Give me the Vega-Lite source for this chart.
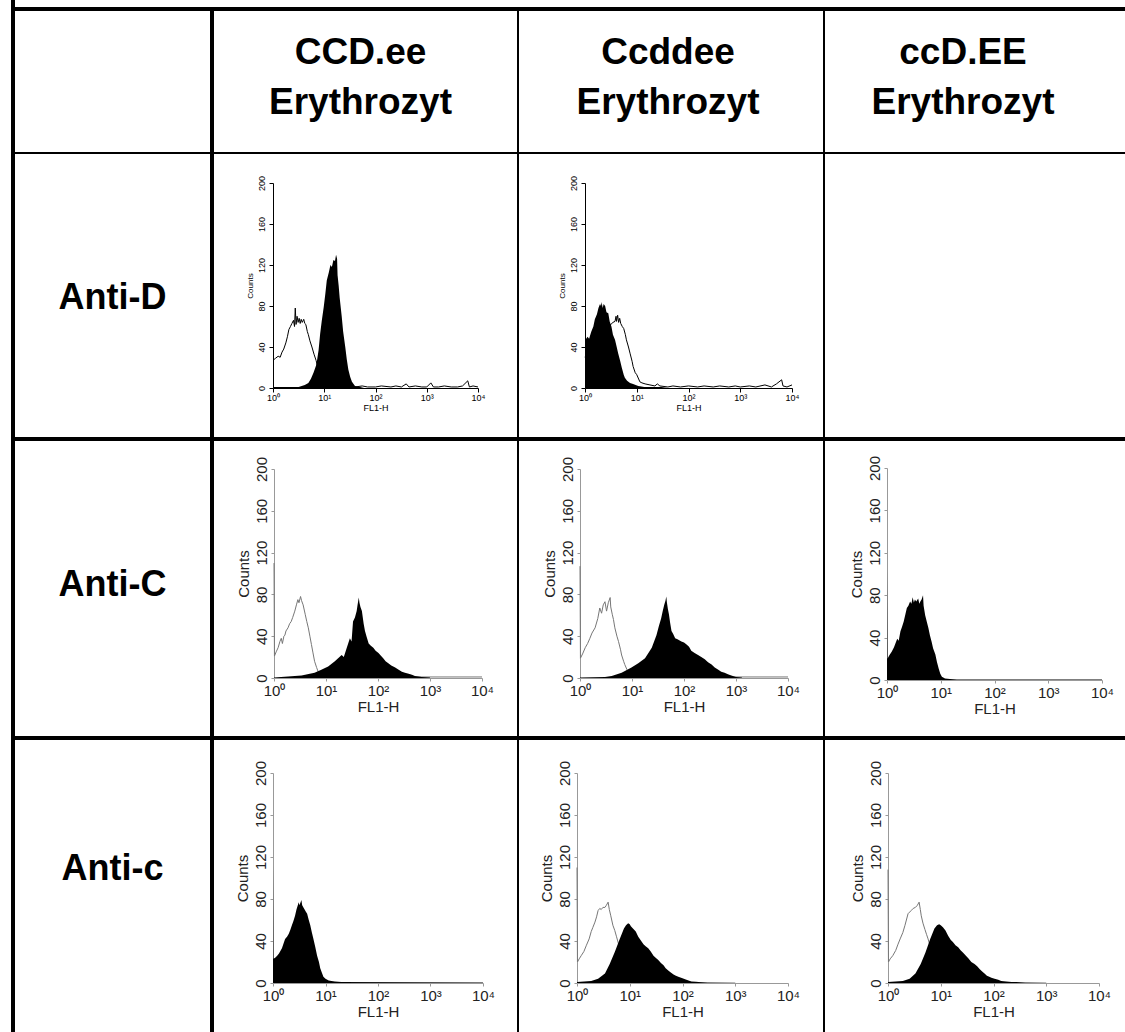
{
"$schema":"https://vega.github.io/schema/vega-lite/v6.json",
"background":"black",
"padding":0,
"datasets":{"h":[
{"p":"D1","s":"o","x":1,"y":27},{"p":"D1","s":"o","x":1.12,"y":29},{"p":"D1","s":"o","x":1.26,"y":31},{"p":"D1","s":"o","x":1.38,"y":30},{"p":"D1","s":"o","x":1.5,"y":35},{"p":"D1","s":"o","x":1.62,"y":38},{"p":"D1","s":"o","x":1.78,"y":44},{"p":"D1","s":"o","x":1.91,"y":50},{"p":"D1","s":"o","x":2.04,"y":57},{"p":"D1","s":"o","x":2.19,"y":60},{"p":"D1","s":"o","x":2.34,"y":63},{"p":"D1","s":"o","x":2.51,"y":66},{"p":"D1","s":"o","x":2.63,"y":60},{"p":"D1","s":"o","x":2.72,"y":78},{"p":"D1","s":"o","x":2.82,"y":62},{"p":"D1","s":"o","x":2.95,"y":70},{"p":"D1","s":"o","x":3.09,"y":64},{"p":"D1","s":"o","x":3.24,"y":68},{"p":"D1","s":"o","x":3.39,"y":63},{"p":"D1","s":"o","x":3.55,"y":67},{"p":"D1","s":"o","x":3.72,"y":64},{"p":"D1","s":"o","x":3.98,"y":67},{"p":"D1","s":"o","x":4.17,"y":63},{"p":"D1","s":"o","x":4.37,"y":62},{"p":"D1","s":"o","x":4.68,"y":55},{"p":"D1","s":"o","x":4.9,"y":52},{"p":"D1","s":"o","x":5.25,"y":46},{"p":"D1","s":"o","x":5.75,"y":40},{"p":"D1","s":"o","x":6.31,"y":33},{"p":"D1","s":"o","x":6.92,"y":27},{"p":"D1","s":"o","x":7.59,"y":19},{"p":"D1","s":"o","x":8.32,"y":13},{"p":"D1","s":"o","x":8.91,"y":10},{"p":"D1","s":"o","x":9.77,"y":6},{"p":"D1","s":"o","x":10.5,"y":4},{"p":"D1","s":"o","x":11.5,"y":3},{"p":"D1","s":"o","x":13.2,"y":2},{"p":"D1","s":"o","x":17,"y":2},{"p":"D1","s":"o","x":22,"y":1},{"p":"D1","s":"o","x":30,"y":2},{"p":"D1","s":"o","x":40,"y":1},{"p":"D1","s":"o","x":55,"y":2},{"p":"D1","s":"o","x":70,"y":1},{"p":"D1","s":"o","x":100,"y":1},{"p":"D1","s":"o","x":130,"y":2},{"p":"D1","s":"o","x":200,"y":1},{"p":"D1","s":"o","x":250,"y":2},{"p":"D1","s":"o","x":320,"y":1},{"p":"D1","s":"o","x":398,"y":4},{"p":"D1","s":"o","x":450,"y":1},{"p":"D1","s":"o","x":600,"y":2},{"p":"D1","s":"o","x":800,"y":1},{"p":"D1","s":"o","x":1000,"y":1},{"p":"D1","s":"o","x":1202,"y":5},{"p":"D1","s":"o","x":1350,"y":1},{"p":"D1","s":"o","x":1700,"y":1},{"p":"D1","s":"o","x":2200,"y":2},{"p":"D1","s":"o","x":3000,"y":1},{"p":"D1","s":"o","x":4000,"y":1},{"p":"D1","s":"o","x":5000,"y":2},{"p":"D1","s":"o","x":6310,"y":7},{"p":"D1","s":"o","x":6800,"y":1},{"p":"D1","s":"o","x":8000,"y":2},{"p":"D1","s":"o","x":10000,"y":1},
{"p":"D1","s":"f","x":1,"y":112},{"p":"D1","s":"f","x":1.02,"y":1},{"p":"D1","s":"f","x":3.16,"y":1},{"p":"D1","s":"f","x":3.63,"y":2},{"p":"D1","s":"f","x":4.17,"y":3},{"p":"D1","s":"f","x":4.9,"y":5},{"p":"D1","s":"f","x":5.5,"y":9},{"p":"D1","s":"f","x":6.17,"y":15},{"p":"D1","s":"f","x":6.92,"y":22},{"p":"D1","s":"f","x":7.24,"y":27},{"p":"D1","s":"f","x":7.76,"y":37},{"p":"D1","s":"f","x":8.32,"y":53},{"p":"D1","s":"f","x":8.91,"y":65},{"p":"D1","s":"f","x":9.77,"y":79},{"p":"D1","s":"f","x":10.5,"y":92},{"p":"D1","s":"f","x":11.2,"y":105},{"p":"D1","s":"f","x":12.3,"y":113},{"p":"D1","s":"f","x":13.2,"y":120},{"p":"D1","s":"f","x":14.1,"y":118},{"p":"D1","s":"f","x":15.1,"y":125},{"p":"D1","s":"f","x":16.2,"y":124},{"p":"D1","s":"f","x":17,"y":130},{"p":"D1","s":"f","x":17.8,"y":126},{"p":"D1","s":"f","x":18.2,"y":110},{"p":"D1","s":"f","x":19.1,"y":100},{"p":"D1","s":"f","x":20,"y":88},{"p":"D1","s":"f","x":21.9,"y":70},{"p":"D1","s":"f","x":23.4,"y":55},{"p":"D1","s":"f","x":25.7,"y":40},{"p":"D1","s":"f","x":27.5,"y":28},{"p":"D1","s":"f","x":29.5,"y":18},{"p":"D1","s":"f","x":32,"y":11},{"p":"D1","s":"f","x":34.7,"y":6},{"p":"D1","s":"f","x":39.8,"y":2},{"p":"D1","s":"f","x":50,"y":1},{"p":"D1","s":"f","x":60,"y":0},
{"p":"D2","s":"o","x":1,"y":30},{"p":"D2","s":"o","x":1.26,"y":40},{"p":"D2","s":"o","x":1.58,"y":50},{"p":"D2","s":"o","x":2,"y":57},{"p":"D2","s":"o","x":2.51,"y":60},{"p":"D2","s":"o","x":3.16,"y":62},{"p":"D2","s":"o","x":3.47,"y":64},{"p":"D2","s":"o","x":3.8,"y":65},{"p":"D2","s":"o","x":3.98,"y":70},{"p":"D2","s":"o","x":4.07,"y":65},{"p":"D2","s":"o","x":4.27,"y":71},{"p":"D2","s":"o","x":4.47,"y":64},{"p":"D2","s":"o","x":4.68,"y":68},{"p":"D2","s":"o","x":4.9,"y":63},{"p":"D2","s":"o","x":5.25,"y":60},{"p":"D2","s":"o","x":5.6,"y":58},{"p":"D2","s":"o","x":6.03,"y":52},{"p":"D2","s":"o","x":6.31,"y":47},{"p":"D2","s":"o","x":6.92,"y":40},{"p":"D2","s":"o","x":7.41,"y":34},{"p":"D2","s":"o","x":8.13,"y":26},{"p":"D2","s":"o","x":8.51,"y":21},{"p":"D2","s":"o","x":9.33,"y":15},{"p":"D2","s":"o","x":10,"y":13},{"p":"D2","s":"o","x":11.5,"y":6},{"p":"D2","s":"o","x":12.6,"y":5},{"p":"D2","s":"o","x":14.5,"y":4},{"p":"D2","s":"o","x":18,"y":3},{"p":"D2","s":"o","x":22.4,"y":2},{"p":"D2","s":"o","x":25,"y":4},{"p":"D2","s":"o","x":28,"y":2},{"p":"D2","s":"o","x":40,"y":1},{"p":"D2","s":"o","x":50,"y":2},{"p":"D2","s":"o","x":70,"y":1},{"p":"D2","s":"o","x":100,"y":2},{"p":"D2","s":"o","x":150,"y":1},{"p":"D2","s":"o","x":200,"y":2},{"p":"D2","s":"o","x":300,"y":1},{"p":"D2","s":"o","x":400,"y":2},{"p":"D2","s":"o","x":600,"y":1},{"p":"D2","s":"o","x":800,"y":2},{"p":"D2","s":"o","x":1000,"y":1},{"p":"D2","s":"o","x":1500,"y":2},{"p":"D2","s":"o","x":2000,"y":1},{"p":"D2","s":"o","x":3000,"y":3},{"p":"D2","s":"o","x":4000,"y":1},{"p":"D2","s":"o","x":5000,"y":4},{"p":"D2","s":"o","x":6310,"y":8},{"p":"D2","s":"o","x":6700,"y":2},{"p":"D2","s":"o","x":8000,"y":1},{"p":"D2","s":"o","x":10000,"y":3},
{"p":"D2","s":"f","x":1,"y":110},{"p":"D2","s":"f","x":1.02,"y":47},{"p":"D2","s":"f","x":1.12,"y":50},{"p":"D2","s":"f","x":1.2,"y":48},{"p":"D2","s":"f","x":1.32,"y":55},{"p":"D2","s":"f","x":1.45,"y":60},{"p":"D2","s":"f","x":1.55,"y":67},{"p":"D2","s":"f","x":1.7,"y":72},{"p":"D2","s":"f","x":1.82,"y":78},{"p":"D2","s":"f","x":1.95,"y":82},{"p":"D2","s":"f","x":2.04,"y":80},{"p":"D2","s":"f","x":2.09,"y":84},{"p":"D2","s":"f","x":2.2,"y":78},{"p":"D2","s":"f","x":2.29,"y":82},{"p":"D2","s":"f","x":2.45,"y":80},{"p":"D2","s":"f","x":2.6,"y":74},{"p":"D2","s":"f","x":2.82,"y":73},{"p":"D2","s":"f","x":3,"y":65},{"p":"D2","s":"f","x":3.24,"y":60},{"p":"D2","s":"f","x":3.47,"y":52},{"p":"D2","s":"f","x":3.8,"y":47},{"p":"D2","s":"f","x":4.1,"y":40},{"p":"D2","s":"f","x":4.37,"y":34},{"p":"D2","s":"f","x":4.8,"y":26},{"p":"D2","s":"f","x":5.13,"y":20},{"p":"D2","s":"f","x":5.6,"y":13},{"p":"D2","s":"f","x":5.89,"y":10},{"p":"D2","s":"f","x":6.5,"y":7},{"p":"D2","s":"f","x":7.41,"y":5},{"p":"D2","s":"f","x":8.5,"y":4},{"p":"D2","s":"f","x":10.7,"y":2},{"p":"D2","s":"f","x":14,"y":1},{"p":"D2","s":"f","x":30,"y":1},{"p":"D2","s":"f","x":40,"y":0},
{"p":"C1","s":"o","x":1,"y":110},{"p":"C1","s":"o","x":1.02,"y":21},{"p":"C1","s":"o","x":1.1,"y":25},{"p":"C1","s":"o","x":1.2,"y":29},{"p":"C1","s":"o","x":1.3,"y":35},{"p":"C1","s":"o","x":1.38,"y":38},{"p":"C1","s":"o","x":1.45,"y":33},{"p":"C1","s":"o","x":1.55,"y":40},{"p":"C1","s":"o","x":1.62,"y":41},{"p":"C1","s":"o","x":1.7,"y":45},{"p":"C1","s":"o","x":1.86,"y":48},{"p":"C1","s":"o","x":2,"y":52},{"p":"C1","s":"o","x":2.14,"y":54},{"p":"C1","s":"o","x":2.29,"y":58},{"p":"C1","s":"o","x":2.51,"y":64},{"p":"C1","s":"o","x":2.7,"y":70},{"p":"C1","s":"o","x":2.88,"y":75},{"p":"C1","s":"o","x":3.02,"y":72},{"p":"C1","s":"o","x":3.24,"y":78},{"p":"C1","s":"o","x":3.39,"y":74},{"p":"C1","s":"o","x":3.63,"y":70},{"p":"C1","s":"o","x":3.98,"y":61},{"p":"C1","s":"o","x":4.27,"y":54},{"p":"C1","s":"o","x":4.57,"y":48},{"p":"C1","s":"o","x":4.9,"y":40},{"p":"C1","s":"o","x":5.25,"y":32},{"p":"C1","s":"o","x":5.62,"y":24},{"p":"C1","s":"o","x":6.03,"y":16},{"p":"C1","s":"o","x":6.6,"y":10},{"p":"C1","s":"o","x":7.08,"y":6},{"p":"C1","s":"o","x":8.13,"y":3},{"p":"C1","s":"o","x":9,"y":2},{"p":"C1","s":"o","x":12,"y":1},{"p":"C1","s":"o","x":10000,"y":1},
{"p":"C1","s":"f","x":1,"y":0.5},{"p":"C1","s":"f","x":1.86,"y":1.5},{"p":"C1","s":"f","x":3.39,"y":2.5},{"p":"C1","s":"f","x":6.03,"y":5},{"p":"C1","s":"f","x":8.13,"y":8},{"p":"C1","s":"f","x":11,"y":11},{"p":"C1","s":"f","x":14.8,"y":16},{"p":"C1","s":"f","x":20,"y":22},{"p":"C1","s":"f","x":22,"y":20},{"p":"C1","s":"f","x":25.1,"y":29},{"p":"C1","s":"f","x":28.8,"y":38},{"p":"C1","s":"f","x":31,"y":35},{"p":"C1","s":"f","x":33.1,"y":54},{"p":"C1","s":"f","x":36,"y":58},{"p":"C1","s":"f","x":38.9,"y":64},{"p":"C1","s":"f","x":40.5,"y":70},{"p":"C1","s":"f","x":42.7,"y":77},{"p":"C1","s":"f","x":44,"y":72},{"p":"C1","s":"f","x":46,"y":68},{"p":"C1","s":"f","x":49,"y":64},{"p":"C1","s":"f","x":53,"y":52},{"p":"C1","s":"f","x":56.2,"y":45},{"p":"C1","s":"f","x":60,"y":40},{"p":"C1","s":"f","x":66.1,"y":33},{"p":"C1","s":"f","x":72,"y":31},{"p":"C1","s":"f","x":81.3,"y":29},{"p":"C1","s":"f","x":90,"y":26},{"p":"C1","s":"f","x":102,"y":24},{"p":"C1","s":"f","x":115,"y":21},{"p":"C1","s":"f","x":126,"y":19},{"p":"C1","s":"f","x":140,"y":16},{"p":"C1","s":"f","x":158,"y":14},{"p":"C1","s":"f","x":180,"y":12},{"p":"C1","s":"f","x":214,"y":10},{"p":"C1","s":"f","x":250,"y":8},{"p":"C1","s":"f","x":288,"y":6},{"p":"C1","s":"f","x":330,"y":5},{"p":"C1","s":"f","x":389,"y":4},{"p":"C1","s":"f","x":450,"y":3},{"p":"C1","s":"f","x":513,"y":2},{"p":"C1","s":"f","x":600,"y":1.5},{"p":"C1","s":"f","x":692,"y":1},{"p":"C1","s":"f","x":1000,"y":0.5},
{"p":"C2","s":"o","x":1,"y":107},{"p":"C2","s":"o","x":1.02,"y":19},{"p":"C2","s":"o","x":1.12,"y":23},{"p":"C2","s":"o","x":1.26,"y":29},{"p":"C2","s":"o","x":1.4,"y":33},{"p":"C2","s":"o","x":1.55,"y":38},{"p":"C2","s":"o","x":1.7,"y":43},{"p":"C2","s":"o","x":1.95,"y":48},{"p":"C2","s":"o","x":2.2,"y":57},{"p":"C2","s":"o","x":2.4,"y":67},{"p":"C2","s":"o","x":2.6,"y":62},{"p":"C2","s":"o","x":2.8,"y":70},{"p":"C2","s":"o","x":3.02,"y":73},{"p":"C2","s":"o","x":3.24,"y":64},{"p":"C2","s":"o","x":3.5,"y":72},{"p":"C2","s":"o","x":3.8,"y":77},{"p":"C2","s":"o","x":3.9,"y":68},{"p":"C2","s":"o","x":4.17,"y":61},{"p":"C2","s":"o","x":4.4,"y":56},{"p":"C2","s":"o","x":4.68,"y":48},{"p":"C2","s":"o","x":5.13,"y":40},{"p":"C2","s":"o","x":5.5,"y":35},{"p":"C2","s":"o","x":6.03,"y":27},{"p":"C2","s":"o","x":6.31,"y":22},{"p":"C2","s":"o","x":6.9,"y":16},{"p":"C2","s":"o","x":7.24,"y":13},{"p":"C2","s":"o","x":8,"y":8},{"p":"C2","s":"o","x":8.51,"y":5},{"p":"C2","s":"o","x":10.5,"y":2},{"p":"C2","s":"o","x":15,"y":1},{"p":"C2","s":"o","x":10000,"y":1},
{"p":"C2","s":"f","x":1,"y":0.5},{"p":"C2","s":"f","x":3.02,"y":1},{"p":"C2","s":"f","x":4.07,"y":2},{"p":"C2","s":"f","x":6.31,"y":5},{"p":"C2","s":"f","x":9.77,"y":10},{"p":"C2","s":"f","x":13.2,"y":14},{"p":"C2","s":"f","x":17.8,"y":19},{"p":"C2","s":"f","x":24,"y":29},{"p":"C2","s":"f","x":29.5,"y":41},{"p":"C2","s":"f","x":33,"y":50},{"p":"C2","s":"f","x":36.3,"y":57},{"p":"C2","s":"f","x":39,"y":64},{"p":"C2","s":"f","x":41.7,"y":70},{"p":"C2","s":"f","x":44,"y":74},{"p":"C2","s":"f","x":45.7,"y":78},{"p":"C2","s":"f","x":47,"y":72},{"p":"C2","s":"f","x":49,"y":66},{"p":"C2","s":"f","x":51.3,"y":61},{"p":"C2","s":"f","x":54,"y":53},{"p":"C2","s":"f","x":57.5,"y":45},{"p":"C2","s":"f","x":62,"y":42},{"p":"C2","s":"f","x":67.6,"y":38},{"p":"C2","s":"f","x":75,"y":37},{"p":"C2","s":"f","x":89.1,"y":35},{"p":"C2","s":"f","x":100,"y":34},{"p":"C2","s":"f","x":112,"y":32},{"p":"C2","s":"f","x":125,"y":30},{"p":"C2","s":"f","x":138,"y":26},{"p":"C2","s":"f","x":160,"y":24},{"p":"C2","s":"f","x":186,"y":22},{"p":"C2","s":"f","x":215,"y":20},{"p":"C2","s":"f","x":251,"y":18},{"p":"C2","s":"f","x":290,"y":15},{"p":"C2","s":"f","x":339,"y":13},{"p":"C2","s":"f","x":390,"y":10},{"p":"C2","s":"f","x":457,"y":8},{"p":"C2","s":"f","x":520,"y":6},{"p":"C2","s":"f","x":603,"y":5},{"p":"C2","s":"f","x":700,"y":3.5},{"p":"C2","s":"f","x":813,"y":2.5},{"p":"C2","s":"f","x":1000,"y":1},{"p":"C2","s":"f","x":1300,"y":0.5},
{"p":"C3","s":"f","x":1,"y":105},{"p":"C3","s":"f","x":1.02,"y":20},{"p":"C3","s":"f","x":1.1,"y":23},{"p":"C3","s":"f","x":1.23,"y":27},{"p":"C3","s":"f","x":1.35,"y":31},{"p":"C3","s":"f","x":1.55,"y":39},{"p":"C3","s":"f","x":1.65,"y":37},{"p":"C3","s":"f","x":1.78,"y":46},{"p":"C3","s":"f","x":1.9,"y":50},{"p":"C3","s":"f","x":2.04,"y":55},{"p":"C3","s":"f","x":2.2,"y":62},{"p":"C3","s":"f","x":2.34,"y":68},{"p":"C3","s":"f","x":2.5,"y":70},{"p":"C3","s":"f","x":2.69,"y":74},{"p":"C3","s":"f","x":2.85,"y":72},{"p":"C3","s":"f","x":3,"y":78},{"p":"C3","s":"f","x":3.16,"y":73},{"p":"C3","s":"f","x":3.31,"y":76},{"p":"C3","s":"f","x":3.5,"y":74},{"p":"C3","s":"f","x":3.8,"y":77},{"p":"C3","s":"f","x":4,"y":72},{"p":"C3","s":"f","x":4.17,"y":74},{"p":"C3","s":"f","x":4.4,"y":76},{"p":"C3","s":"f","x":4.68,"y":80},{"p":"C3","s":"f","x":4.8,"y":70},{"p":"C3","s":"f","x":5.13,"y":61},{"p":"C3","s":"f","x":5.5,"y":55},{"p":"C3","s":"f","x":5.89,"y":49},{"p":"C3","s":"f","x":6.3,"y":42},{"p":"C3","s":"f","x":6.76,"y":36},{"p":"C3","s":"f","x":7.2,"y":30},{"p":"C3","s":"f","x":7.94,"y":24},{"p":"C3","s":"f","x":8.5,"y":17},{"p":"C3","s":"f","x":9.12,"y":11},{"p":"C3","s":"f","x":9.8,"y":6},{"p":"C3","s":"f","x":10.5,"y":3},{"p":"C3","s":"f","x":12,"y":1.5},{"p":"C3","s":"f","x":14.8,"y":1},{"p":"C3","s":"f","x":20,"y":0.5},{"p":"C3","s":"f","x":10000,"y":0.5},
{"p":"k1","s":"f","x":1,"y":112},{"p":"k1","s":"f","x":1.02,"y":23},{"p":"k1","s":"f","x":1.1,"y":24},{"p":"k1","s":"f","x":1.2,"y":26},{"p":"k1","s":"f","x":1.3,"y":28},{"p":"k1","s":"f","x":1.48,"y":33},{"p":"k1","s":"f","x":1.6,"y":38},{"p":"k1","s":"f","x":1.7,"y":42},{"p":"k1","s":"f","x":1.85,"y":44},{"p":"k1","s":"f","x":2,"y":47},{"p":"k1","s":"f","x":2.15,"y":51},{"p":"k1","s":"f","x":2.29,"y":55},{"p":"k1","s":"f","x":2.45,"y":59},{"p":"k1","s":"f","x":2.63,"y":64},{"p":"k1","s":"f","x":2.8,"y":70},{"p":"k1","s":"f","x":3.09,"y":77},{"p":"k1","s":"f","x":3.2,"y":74},{"p":"k1","s":"f","x":3.47,"y":79},{"p":"k1","s":"f","x":3.6,"y":74},{"p":"k1","s":"f","x":3.8,"y":72},{"p":"k1","s":"f","x":4,"y":70},{"p":"k1","s":"f","x":4.2,"y":68},{"p":"k1","s":"f","x":4.47,"y":66},{"p":"k1","s":"f","x":4.8,"y":60},{"p":"k1","s":"f","x":5.13,"y":55},{"p":"k1","s":"f","x":5.5,"y":48},{"p":"k1","s":"f","x":5.89,"y":42},{"p":"k1","s":"f","x":6.4,"y":34},{"p":"k1","s":"f","x":6.92,"y":26},{"p":"k1","s":"f","x":7.5,"y":20},{"p":"k1","s":"f","x":7.94,"y":14},{"p":"k1","s":"f","x":8.5,"y":10},{"p":"k1","s":"f","x":9.12,"y":6},{"p":"k1","s":"f","x":10,"y":4},{"p":"k1","s":"f","x":11.5,"y":2.5},{"p":"k1","s":"f","x":13,"y":2},{"p":"k1","s":"f","x":15.1,"y":1.5},{"p":"k1","s":"f","x":20,"y":1},{"p":"k1","s":"f","x":10000,"y":0.5},
{"p":"k2","s":"o","x":1,"y":110},{"p":"k2","s":"o","x":1.02,"y":20},{"p":"k2","s":"o","x":1.1,"y":23},{"p":"k2","s":"o","x":1.2,"y":26},{"p":"k2","s":"o","x":1.35,"y":30},{"p":"k2","s":"o","x":1.51,"y":36},{"p":"k2","s":"o","x":1.7,"y":42},{"p":"k2","s":"o","x":1.86,"y":49},{"p":"k2","s":"o","x":2,"y":53},{"p":"k2","s":"o","x":2.19,"y":58},{"p":"k2","s":"o","x":2.35,"y":63},{"p":"k2","s":"o","x":2.51,"y":69},{"p":"k2","s":"o","x":2.7,"y":71},{"p":"k2","s":"o","x":2.88,"y":70},{"p":"k2","s":"o","x":3.1,"y":72},{"p":"k2","s":"o","x":3.39,"y":72},{"p":"k2","s":"o","x":3.6,"y":74},{"p":"k2","s":"o","x":3.89,"y":77},{"p":"k2","s":"o","x":4.1,"y":70},{"p":"k2","s":"o","x":4.37,"y":64},{"p":"k2","s":"o","x":4.79,"y":55},{"p":"k2","s":"o","x":5.2,"y":50},{"p":"k2","s":"o","x":5.62,"y":44},{"p":"k2","s":"o","x":6.46,"y":33},{"p":"k2","s":"o","x":7.2,"y":26},{"p":"k2","s":"o","x":8,"y":20},{"p":"k2","s":"o","x":9,"y":14},{"p":"k2","s":"o","x":10,"y":10},{"p":"k2","s":"o","x":12,"y":5},{"p":"k2","s":"o","x":15,"y":3},{"p":"k2","s":"o","x":20,"y":1},
{"p":"k2","s":"f","x":1,"y":1},{"p":"k2","s":"f","x":1.86,"y":2},{"p":"k2","s":"f","x":2.51,"y":4},{"p":"k2","s":"f","x":3.39,"y":9},{"p":"k2","s":"f","x":4.17,"y":18},{"p":"k2","s":"f","x":5.25,"y":30},{"p":"k2","s":"f","x":6.46,"y":42},{"p":"k2","s":"f","x":7.76,"y":52},{"p":"k2","s":"f","x":8.5,"y":55},{"p":"k2","s":"f","x":9.33,"y":57},{"p":"k2","s":"f","x":10,"y":56},{"p":"k2","s":"f","x":10.5,"y":54},{"p":"k2","s":"f","x":11.5,"y":52},{"p":"k2","s":"f","x":13,"y":49},{"p":"k2","s":"f","x":14.5,"y":44},{"p":"k2","s":"f","x":16,"y":41},{"p":"k2","s":"f","x":18.2,"y":37},{"p":"k2","s":"f","x":20,"y":35},{"p":"k2","s":"f","x":22.4,"y":33},{"p":"k2","s":"f","x":25,"y":30},{"p":"k2","s":"f","x":28.2,"y":26},{"p":"k2","s":"f","x":31,"y":24},{"p":"k2","s":"f","x":34.7,"y":22},{"p":"k2","s":"f","x":39,"y":19},{"p":"k2","s":"f","x":43.7,"y":17},{"p":"k2","s":"f","x":48,"y":14},{"p":"k2","s":"f","x":53.7,"y":12},{"p":"k2","s":"f","x":60,"y":10},{"p":"k2","s":"f","x":67.6,"y":8},{"p":"k2","s":"f","x":75,"y":7},{"p":"k2","s":"f","x":83.2,"y":6},{"p":"k2","s":"f","x":100,"y":4.5},{"p":"k2","s":"f","x":112,"y":3.5},{"p":"k2","s":"f","x":130,"y":2.5},{"p":"k2","s":"f","x":148,"y":1.5},{"p":"k2","s":"f","x":180,"y":1.2},{"p":"k2","s":"f","x":200,"y":1},{"p":"k2","s":"f","x":300,"y":0.5},{"p":"k2","s":"f","x":1000,"y":0.3},
{"p":"k3","s":"o","x":1,"y":108},{"p":"k3","s":"o","x":1.02,"y":20},{"p":"k3","s":"o","x":1.1,"y":23},{"p":"k3","s":"o","x":1.23,"y":26},{"p":"k3","s":"o","x":1.4,"y":31},{"p":"k3","s":"o","x":1.55,"y":37},{"p":"k3","s":"o","x":1.7,"y":42},{"p":"k3","s":"o","x":1.91,"y":48},{"p":"k3","s":"o","x":2.1,"y":55},{"p":"k3","s":"o","x":2.4,"y":66},{"p":"k3","s":"o","x":2.75,"y":69},{"p":"k3","s":"o","x":3,"y":71},{"p":"k3","s":"o","x":3.31,"y":72},{"p":"k3","s":"o","x":3.6,"y":74},{"p":"k3","s":"o","x":3.89,"y":77},{"p":"k3","s":"o","x":4.1,"y":70},{"p":"k3","s":"o","x":4.27,"y":64},{"p":"k3","s":"o","x":4.6,"y":57},{"p":"k3","s":"o","x":5.01,"y":51},{"p":"k3","s":"o","x":5.4,"y":46},{"p":"k3","s":"o","x":5.75,"y":42},{"p":"k3","s":"o","x":6.3,"y":35},{"p":"k3","s":"o","x":7,"y":28},{"p":"k3","s":"o","x":8,"y":20},{"p":"k3","s":"o","x":9,"y":14},{"p":"k3","s":"o","x":10,"y":10},{"p":"k3","s":"o","x":12,"y":5},{"p":"k3","s":"o","x":15,"y":3},{"p":"k3","s":"o","x":20,"y":1},
{"p":"k3","s":"f","x":1,"y":1},{"p":"k3","s":"f","x":1.91,"y":2},{"p":"k3","s":"f","x":2.57,"y":4},{"p":"k3","s":"f","x":3.31,"y":9},{"p":"k3","s":"f","x":4.17,"y":18},{"p":"k3","s":"f","x":5.13,"y":29},{"p":"k3","s":"f","x":6.31,"y":42},{"p":"k3","s":"f","x":7.59,"y":52},{"p":"k3","s":"f","x":8.5,"y":55},{"p":"k3","s":"f","x":9.33,"y":56},{"p":"k3","s":"f","x":10,"y":55},{"p":"k3","s":"f","x":11,"y":53},{"p":"k3","s":"f","x":12.3,"y":50},{"p":"k3","s":"f","x":13.8,"y":45},{"p":"k3","s":"f","x":15.5,"y":41},{"p":"k3","s":"f","x":17,"y":39},{"p":"k3","s":"f","x":19,"y":36},{"p":"k3","s":"f","x":21.4,"y":34},{"p":"k3","s":"f","x":24,"y":31},{"p":"k3","s":"f","x":26.3,"y":29},{"p":"k3","s":"f","x":30,"y":26},{"p":"k3","s":"f","x":33.9,"y":23},{"p":"k3","s":"f","x":38,"y":20},{"p":"k3","s":"f","x":43.7,"y":18},{"p":"k3","s":"f","x":49,"y":16},{"p":"k3","s":"f","x":55,"y":13},{"p":"k3","s":"f","x":61,"y":11},{"p":"k3","s":"f","x":67.6,"y":9},{"p":"k3","s":"f","x":75,"y":7},{"p":"k3","s":"f","x":83,"y":6},{"p":"k3","s":"f","x":91.2,"y":5},{"p":"k3","s":"f","x":105,"y":4},{"p":"k3","s":"f","x":123,"y":3},{"p":"k3","s":"f","x":140,"y":2},{"p":"k3","s":"f","x":174,"y":1.5},{"p":"k3","s":"f","x":220,"y":1},{"p":"k3","s":"f","x":269,"y":1},{"p":"k3","s":"f","x":400,"y":0.5},{"p":"k3","s":"f","x":1000,"y":0.3}
]},
"spacing":4,
"hconcat":[
 {"width":11,"height":1032,"view":{"fill":"white","stroke":null},"data":{"values":[{}]},"mark":{"type":"text","fontSize":0},"encoding":{"text":{"value":""}}},
 {"spacing":4,"vconcat":[
  {"width":1110,"height":7,"view":{"fill":"white","stroke":null},"data":{"values":[{}]},"mark":{"type":"text","fontSize":0},"encoding":{"text":{"value":""}}},
  {"spacing":2,"vconcat":[
   {"spacing":4,"hconcat":[
    {"width":195,"height":141,"view":{"fill":"white","stroke":null},"data":{"values":[{}]},"mark":{"type":"text","fontSize":0},"encoding":{"text":{"value":""}}},
    {"spacing":2,"hconcat":[
     {"width":303,"height":141,"view":{"fill":"white","stroke":null},"data":{"values":[{"t":"CCD.ee","l":"a"},{"t":"Erythrozyt","l":"b"}]},"mark":{"type":"text","font":"Liberation Sans","fontWeight":"bold","fontSize":37,"baseline":"alphabetic","dy":7,"dx":-5,"color":"black"},"encoding":{"y":{"field":"l","type":"nominal","axis":null,"scale":{"type":"point","padding":0.91}},"text":{"field":"t"}}},
     {"width":304,"height":141,"view":{"fill":"white","stroke":null},"data":{"values":[{"t":"Ccddee","l":"a"},{"t":"Erythrozyt","l":"b"}]},"mark":{"type":"text","font":"Liberation Sans","fontWeight":"bold","fontSize":37,"baseline":"alphabetic","dy":7,"dx":-3,"color":"black"},"encoding":{"y":{"field":"l","type":"nominal","axis":null,"scale":{"type":"point","padding":0.91}},"text":{"field":"t"}}},
     {"width":300,"height":141,"view":{"fill":"white","stroke":null},"data":{"values":[{"t":"ccD.EE","l":"a"},{"t":"Erythrozyt","l":"b"}]},"mark":{"type":"text","font":"Liberation Sans","fontWeight":"bold","fontSize":37,"baseline":"alphabetic","dy":7,"dx":-12,"color":"black"},"encoding":{"y":{"field":"l","type":"nominal","axis":null,"scale":{"type":"point","padding":0.91}},"text":{"field":"t"}}}
    ]}
   ]},
   {"spacing":4,"hconcat":[
    {"width":195,"height":283,"view":{"fill":"white","stroke":null},"data":{"values":[{"t":"Anti-D"}]},"mark":{"type":"text","font":"Liberation Sans","fontWeight":"bold","fontSize":36,"color":"black","dy":2},"encoding":{"text":{"field":"t"}}},
    {"spacing":2,"hconcat":[
     {"width":303,"height":283,"view":{"fill":"white","stroke":null},"data":{"name":"h"},"transform":[{"filter":"datum.p=='D1'"}],
      "encoding":{"x":{"field":"x","type":"quantitative","scale":{"type":"log","domain":[1,10000],"range":[59,264]},"axis":{"title":"FL1-H","values":[1,10,100,1000,10000],"labelExpr":"'10'+(datum.value==1?'⁰':datum.value==10?'¹':datum.value==100?'²':datum.value==1000?'³':'⁴')","offset":-49,"labelFontSize":9,"titleFontSize":9,"domainColor":"black","tickColor":"black","tickSize":4,"labelColor":"black","titleColor":"black","labelPadding":1,"titlePadding":1}},
       "y":{"field":"y","type":"quantitative","scale":{"domain":[0,200],"range":[234,29]},"axis":{"title":"Counts","values":[0,40,80,120,160,200],"offset":-59,"labelFontSize":9,"titleFontSize":8,"domainColor":"black","tickColor":"black","tickSize":4,"labelColor":"black","titleColor":"black","labelPadding":3,"titlePadding":3}}},
      "layer":[
       {"transform":[{"filter":"datum.s=='o'"}],"mark":{"type":"line","color":"black","strokeWidth":1},"encoding":{}},
       {"transform":[{"filter":"datum.s=='f'"}],"mark":{"type":"area","color":"black"},"encoding":{}},
       {"data":{"values":[{}]},"mark":{"type":"rect","fillOpacity":0,"stroke":"black","strokeWidth":1},"encoding":{"x":{"datum":1,"type":"quantitative"},"x2":{"datum":10000},"y":{"datum":0,"type":"quantitative"},"y2":{"datum":200}}}
      ]},
     {"width":304,"height":283,"view":{"fill":"white","stroke":null},"data":{"name":"h"},"transform":[{"filter":"datum.p=='D2'"}],
      "encoding":{"x":{"field":"x","type":"quantitative","scale":{"type":"log","domain":[1,10000],"range":[66,273]},"axis":{"title":"FL1-H","values":[1,10,100,1000,10000],"labelExpr":"'10'+(datum.value==1?'⁰':datum.value==10?'¹':datum.value==100?'²':datum.value==1000?'³':'⁴')","offset":-49,"labelFontSize":9,"titleFontSize":9,"domainColor":"black","tickColor":"black","tickSize":4,"labelColor":"black","titleColor":"black","labelPadding":1,"titlePadding":1}},
       "y":{"field":"y","type":"quantitative","scale":{"domain":[0,200],"range":[234,29]},"axis":{"title":"Counts","values":[0,40,80,120,160,200],"offset":-66,"labelFontSize":9,"titleFontSize":8,"domainColor":"black","tickColor":"black","tickSize":4,"labelColor":"black","titleColor":"black","labelPadding":3,"titlePadding":3}}},
      "layer":[
       {"transform":[{"filter":"datum.s=='o'"}],"mark":{"type":"line","color":"black","strokeWidth":1},"encoding":{}},
       {"transform":[{"filter":"datum.s=='f'"}],"mark":{"type":"area","color":"black"},"encoding":{}},
       {"data":{"values":[{}]},"mark":{"type":"rect","fillOpacity":0,"stroke":"black","strokeWidth":1},"encoding":{"x":{"datum":1,"type":"quantitative"},"x2":{"datum":10000},"y":{"datum":0,"type":"quantitative"},"y2":{"datum":200}}}
      ]},
     {"width":300,"height":283,"view":{"fill":"white","stroke":null},"data":{"values":[{}]},"mark":{"type":"text","fontSize":0},"encoding":{"text":{"value":""}}}
    ]}
   ]}
  ]},
  {"spacing":4,"hconcat":[
   {"width":195,"height":295,"view":{"fill":"white","stroke":null},"data":{"values":[{"t":"Anti-C"}]},"mark":{"type":"text","font":"Liberation Sans","fontWeight":"bold","fontSize":36,"color":"black","dy":-4},"encoding":{"text":{"field":"t"}}},
   {"spacing":2,"hconcat":[
    {"width":303,"height":295,"view":{"fill":"white","stroke":null},"data":{"name":"h"},"transform":[{"filter":"datum.p=='C1'"}],
     "encoding":{"x":{"field":"x","type":"quantitative","scale":{"type":"log","domain":[1,10000],"range":[60,268]},"axis":{"title":"FL1-H","values":[1,10,100,1000,10000],"labelExpr":"'10'+(datum.value==1?'⁰':datum.value==10?'¹':datum.value==100?'²':datum.value==1000?'³':'⁴')","offset":-58}},
      "y":{"field":"y","type":"quantitative","scale":{"domain":[0,200],"range":[237,28]},"axis":{"title":"Counts","values":[0,40,80,120,160,200],"offset":-60}}},
     "layer":[
      {"transform":[{"filter":"datum.s=='o'"}],"mark":{"type":"line","color":"#777","strokeWidth":1},"encoding":{}},
      {"transform":[{"filter":"datum.s=='f'"}],"mark":{"type":"area","color":"black"},"encoding":{}},
      {"data":{"values":[{}]},"mark":{"type":"rect","fillOpacity":0,"stroke":"#999","strokeWidth":1},"encoding":{"x":{"datum":1,"type":"quantitative"},"x2":{"datum":10000},"y":{"datum":0,"type":"quantitative"},"y2":{"datum":200}}}
     ]},
    {"width":304,"height":295,"view":{"fill":"white","stroke":null},"data":{"name":"h"},"transform":[{"filter":"datum.p=='C2'"}],
     "encoding":{"x":{"field":"x","type":"quantitative","scale":{"type":"log","domain":[1,10000],"range":[61,269]},"axis":{"title":"FL1-H","values":[1,10,100,1000,10000],"labelExpr":"'10'+(datum.value==1?'⁰':datum.value==10?'¹':datum.value==100?'²':datum.value==1000?'³':'⁴')","offset":-58}},
      "y":{"field":"y","type":"quantitative","scale":{"domain":[0,200],"range":[237,28]},"axis":{"title":"Counts","values":[0,40,80,120,160,200],"offset":-61}}},
     "layer":[
      {"transform":[{"filter":"datum.s=='o'"}],"mark":{"type":"line","color":"#777","strokeWidth":1},"encoding":{}},
      {"transform":[{"filter":"datum.s=='f'"}],"mark":{"type":"area","color":"black"},"encoding":{}},
      {"data":{"values":[{}]},"mark":{"type":"rect","fillOpacity":0,"stroke":"#999","strokeWidth":1},"encoding":{"x":{"datum":1,"type":"quantitative"},"x2":{"datum":10000},"y":{"datum":0,"type":"quantitative"},"y2":{"datum":200}}}
     ]},
    {"width":300,"height":295,"view":{"fill":"white","stroke":null},"data":{"name":"h"},"transform":[{"filter":"datum.p=='C3'"}],
     "encoding":{"x":{"field":"x","type":"quantitative","scale":{"type":"log","domain":[1,10000],"range":[62,277]},"axis":{"title":"FL1-H","values":[1,10,100,1000,10000],"labelExpr":"'10'+(datum.value==1?'⁰':datum.value==10?'¹':datum.value==100?'²':datum.value==1000?'³':'⁴')","offset":-56}},
      "y":{"field":"y","type":"quantitative","scale":{"domain":[0,200],"range":[239,27]},"axis":{"title":"Counts","values":[0,40,80,120,160,200],"offset":-62}}},
     "layer":[
      {"transform":[{"filter":"datum.s=='f'"}],"mark":{"type":"area","color":"black"},"encoding":{}},
      {"data":{"values":[{}]},"mark":{"type":"rect","fillOpacity":0,"stroke":"#999","strokeWidth":1},"encoding":{"x":{"datum":1,"type":"quantitative"},"x2":{"datum":10000},"y":{"datum":0,"type":"quantitative"},"y2":{"datum":200}}}
     ]}
   ]}
  ]},
  {"spacing":4,"hconcat":[
   {"width":195,"height":292,"view":{"fill":"white","stroke":null},"data":{"values":[{"t":"Anti-c"}]},"mark":{"type":"text","font":"Liberation Sans","fontWeight":"bold","fontSize":36,"color":"black","dy":-17},"encoding":{"text":{"field":"t"}}},
   {"spacing":2,"hconcat":[
    {"width":303,"height":292,"view":{"fill":"white","stroke":null},"data":{"name":"h"},"transform":[{"filter":"datum.p=='k1'"}],
     "encoding":{"x":{"field":"x","type":"quantitative","scale":{"type":"log","domain":[1,10000],"range":[59,269]},"axis":{"title":"FL1-H","values":[1,10,100,1000,10000],"labelExpr":"'10'+(datum.value==1?'⁰':datum.value==10?'¹':datum.value==100?'²':datum.value==1000?'³':'⁴')","offset":-49}},
      "y":{"field":"y","type":"quantitative","scale":{"domain":[0,200],"range":[243,33]},"axis":{"title":"Counts","values":[0,40,80,120,160,200],"offset":-59}}},
     "layer":[
      {"transform":[{"filter":"datum.s=='f'"}],"mark":{"type":"area","color":"black"},"encoding":{}},
      {"data":{"values":[{}]},"mark":{"type":"rect","fillOpacity":0,"stroke":"#999","strokeWidth":1},"encoding":{"x":{"datum":1,"type":"quantitative"},"x2":{"datum":10000},"y":{"datum":0,"type":"quantitative"},"y2":{"datum":200}}}
     ]},
    {"width":304,"height":292,"view":{"fill":"white","stroke":null},"data":{"name":"h"},"transform":[{"filter":"datum.p=='k2'"}],
     "encoding":{"x":{"field":"x","type":"quantitative","scale":{"type":"log","domain":[1,10000],"range":[58,269]},"axis":{"title":"FL1-H","values":[1,10,100,1000,10000],"labelExpr":"'10'+(datum.value==1?'⁰':datum.value==10?'¹':datum.value==100?'²':datum.value==1000?'³':'⁴')","offset":-49}},
      "y":{"field":"y","type":"quantitative","scale":{"domain":[0,200],"range":[243,33]},"axis":{"title":"Counts","values":[0,40,80,120,160,200],"offset":-58}}},
     "layer":[
      {"transform":[{"filter":"datum.s=='o'"}],"mark":{"type":"line","color":"#777","strokeWidth":1},"encoding":{}},
      {"transform":[{"filter":"datum.s=='f'"}],"mark":{"type":"area","color":"black"},"encoding":{}},
      {"data":{"values":[{}]},"mark":{"type":"rect","fillOpacity":0,"stroke":"#999","strokeWidth":1},"encoding":{"x":{"datum":1,"type":"quantitative"},"x2":{"datum":10000},"y":{"datum":0,"type":"quantitative"},"y2":{"datum":200}}}
     ]},
    {"width":300,"height":292,"view":{"fill":"white","stroke":null},"data":{"name":"h"},"transform":[{"filter":"datum.p=='k3'"}],
     "encoding":{"x":{"field":"x","type":"quantitative","scale":{"type":"log","domain":[1,10000],"range":[63,274]},"axis":{"title":"FL1-H","values":[1,10,100,1000,10000],"labelExpr":"'10'+(datum.value==1?'⁰':datum.value==10?'¹':datum.value==100?'²':datum.value==1000?'³':'⁴')","offset":-49}},
      "y":{"field":"y","type":"quantitative","scale":{"domain":[0,200],"range":[243,33]},"axis":{"title":"Counts","values":[0,40,80,120,160,200],"offset":-63}}},
     "layer":[
      {"transform":[{"filter":"datum.s=='o'"}],"mark":{"type":"line","color":"#777","strokeWidth":1},"encoding":{}},
      {"transform":[{"filter":"datum.s=='f'"}],"mark":{"type":"area","color":"black"},"encoding":{}},
      {"data":{"values":[{}]},"mark":{"type":"rect","fillOpacity":0,"stroke":"#999","strokeWidth":1},"encoding":{"x":{"datum":1,"type":"quantitative"},"x2":{"datum":10000},"y":{"datum":0,"type":"quantitative"},"y2":{"datum":200}}}
     ]}
   ]}
  ]}
 ]}
],
"config":{
 "view":{"stroke":null},
 "font":"Liberation Sans",
 "axis":{"grid":false,"labelFont":"Liberation Sans","titleFont":"Liberation Sans","labelFontSize":15,"titleFontSize":15,"titleFontWeight":"normal","labelColor":"#222","titleColor":"#222","domainColor":"#999","tickColor":"#999","tickSize":3,"labelPadding":2,"titlePadding":1,"labelFlush":false,"labelOverlap":false},
 "axisY":{"labelAngle":-90,"titlePadding":3}
}
}
